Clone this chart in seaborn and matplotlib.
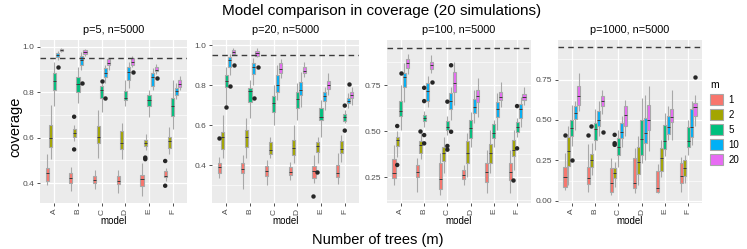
import numpy as np
import pandas as pd
import matplotlib
matplotlib.use('Agg')
import matplotlib.pyplot as plt
import seaborn as sns
from matplotlib.patches import Patch
from matplotlib.ticker import FixedLocator

plt.rcParams['font.family'] = ['Liberation Sans', 'DejaVu Sans']

models = ['A', 'B', 'C', 'D', 'E', 'F']
trees = ['1', '2', '5', '10', '20']
palette = ['#F8766D', '#A3A500', '#00BF7D', '#00B0F6', '#E76BF3']
panel_titles = ['p=5, n=5000', 'p=20, n=5000', 'p=100, n=5000', 'p=1000, n=5000']
target = 0.95

# box stats, model by model, m = 1, 2, 5, 10, 20
# (lower whisker, q1, median, q3, upper whisker)
box_p5 = [
    (0.390, 0.411, 0.443, 0.468, 0.528), (0.505, 0.560, 0.597, 0.654, 0.744), (0.739, 0.810, 0.849, 0.886, 0.934), (0.940, 0.953, 0.963, 0.971, 0.982), (0.978, 0.982, 0.987, 0.991, 0.993),
    (0.363, 0.402, 0.421, 0.443, 0.472), (0.585, 0.604, 0.619, 0.637, 0.655), (0.751, 0.802, 0.836, 0.868, 0.912), (0.900, 0.919, 0.941, 0.960, 0.978), (0.960, 0.968, 0.977, 0.985, 0.990),
    (0.373, 0.402, 0.414, 0.429, 0.458), (0.512, 0.575, 0.604, 0.651, 0.722), (0.714, 0.776, 0.808, 0.827, 0.840), (0.840, 0.865, 0.886, 0.905, 0.920), (0.900, 0.919, 0.930, 0.945, 0.950),
    (0.355, 0.396, 0.410, 0.431, 0.458), (0.505, 0.549, 0.575, 0.629, 0.663), (0.739, 0.766, 0.776, 0.807, 0.853), (0.820, 0.856, 0.890, 0.909, 0.935), (0.910, 0.922, 0.935, 0.949, 0.960),
    (0.345, 0.385, 0.418, 0.436, 0.487), (0.546, 0.565, 0.575, 0.590, 0.616), (0.692, 0.739, 0.766, 0.788, 0.810), (0.810, 0.827, 0.868, 0.883, 0.905), (0.880, 0.895, 0.900, 0.909, 0.925),
    (0.407, 0.426, 0.433, 0.451, 0.465), (0.528, 0.556, 0.585, 0.601, 0.648), (0.640, 0.695, 0.739, 0.773, 0.853), (0.770, 0.788, 0.804, 0.817, 0.839), (0.810, 0.824, 0.838, 0.856, 0.871),
]
box_p20 = [
    (0.333, 0.358, 0.392, 0.412, 0.442), (0.437, 0.478, 0.538, 0.567, 0.650), (0.700, 0.792, 0.822, 0.850, 0.892), (0.850, 0.888, 0.925, 0.942, 0.955), (0.948, 0.955, 0.967, 0.975, 0.985),
    (0.280, 0.358, 0.380, 0.412, 0.450), (0.433, 0.492, 0.542, 0.575, 0.633), (0.633, 0.717, 0.770, 0.783, 0.825), (0.800, 0.853, 0.892, 0.912, 0.935), (0.940, 0.947, 0.962, 0.970, 0.985),
    (0.300, 0.345, 0.370, 0.395, 0.425), (0.433, 0.455, 0.475, 0.517, 0.542), (0.600, 0.667, 0.712, 0.747, 0.800), (0.725, 0.767, 0.800, 0.850, 0.900), (0.833, 0.858, 0.880, 0.912, 0.930),
    (0.325, 0.350, 0.363, 0.392, 0.417), (0.408, 0.450, 0.485, 0.525, 0.600), (0.625, 0.687, 0.730, 0.767, 0.808), (0.690, 0.750, 0.775, 0.817, 0.867), (0.842, 0.858, 0.870, 0.892, 0.917),
    (0.308, 0.337, 0.370, 0.395, 0.450), (0.408, 0.463, 0.495, 0.517, 0.542), (0.540, 0.625, 0.642, 0.683, 0.725), (0.675, 0.722, 0.745, 0.767, 0.792), (0.750, 0.780, 0.800, 0.822, 0.858),
    (0.305, 0.342, 0.358, 0.400, 0.458), (0.417, 0.462, 0.480, 0.520, 0.550), (0.608, 0.622, 0.638, 0.653, 0.675), (0.683, 0.708, 0.722, 0.737, 0.758), (0.700, 0.733, 0.750, 0.767, 0.792),
]
box_p100 = [
    (0.210, 0.248, 0.275, 0.347, 0.425), (0.360, 0.420, 0.450, 0.467, 0.500), (0.506, 0.582, 0.609, 0.663, 0.750), (0.660, 0.741, 0.795, 0.813, 0.867), (0.810, 0.840, 0.868, 0.891, 0.918),
    (0.172, 0.253, 0.280, 0.317, 0.355), (0.352, 0.383, 0.425, 0.447, 0.490), (0.520, 0.555, 0.573, 0.588, 0.610), (0.630, 0.663, 0.720, 0.759, 0.800), (0.813, 0.837, 0.860, 0.873, 0.912),
    (0.155, 0.185, 0.240, 0.330, 0.380), (0.275, 0.338, 0.380, 0.412, 0.470), (0.480, 0.507, 0.525, 0.557, 0.580), (0.560, 0.618, 0.665, 0.705, 0.740), (0.640, 0.714, 0.760, 0.822, 0.877),
    (0.208, 0.240, 0.265, 0.290, 0.317), (0.254, 0.330, 0.380, 0.447, 0.488), (0.416, 0.461, 0.515, 0.561, 0.606), (0.543, 0.600, 0.629, 0.674, 0.723), (0.578, 0.660, 0.690, 0.723, 0.786),
    (0.163, 0.227, 0.278, 0.330, 0.398), (0.272, 0.326, 0.383, 0.429, 0.506), (0.416, 0.461, 0.490, 0.537, 0.560), (0.506, 0.575, 0.618, 0.660, 0.705), (0.632, 0.669, 0.685, 0.714, 0.768),
    (0.163, 0.236, 0.280, 0.326, 0.398), (0.290, 0.366, 0.398, 0.452, 0.506), (0.470, 0.497, 0.525, 0.550, 0.570), (0.524, 0.570, 0.618, 0.647, 0.687), (0.640, 0.669, 0.687, 0.701, 0.740),
]
box_p1000 = [
    (0.066, 0.087, 0.145, 0.207, 0.294), (0.100, 0.215, 0.305, 0.394, 0.460), (0.340, 0.400, 0.450, 0.500, 0.590), (0.440, 0.505, 0.543, 0.588, 0.620), (0.553, 0.595, 0.650, 0.713, 0.790),
    (0.056, 0.104, 0.139, 0.207, 0.350), (0.160, 0.207, 0.253, 0.290, 0.355), (0.315, 0.373, 0.446, 0.480, 0.565), (0.400, 0.460, 0.500, 0.553, 0.615), (0.540, 0.584, 0.618, 0.646, 0.688),
    (0.035, 0.056, 0.112, 0.201, 0.263), (0.087, 0.139, 0.170, 0.205, 0.242), (0.210, 0.282, 0.330, 0.387, 0.440), (0.335, 0.387, 0.425, 0.480, 0.526), (0.400, 0.460, 0.532, 0.584, 0.625),
    (0.045, 0.077, 0.112, 0.263, 0.325), (0.097, 0.166, 0.237, 0.332, 0.400), (0.232, 0.284, 0.380, 0.497, 0.636), (0.253, 0.356, 0.418, 0.512, 0.657), (0.305, 0.440, 0.497, 0.595, 0.708),
    (0.045, 0.056, 0.077, 0.186, 0.230), (0.150, 0.186, 0.263, 0.325, 0.377), (0.275, 0.319, 0.367, 0.470, 0.543), (0.378, 0.415, 0.455, 0.526, 0.584), (0.378, 0.485, 0.518, 0.568, 0.688),
    (0.056, 0.112, 0.153, 0.236, 0.273), (0.108, 0.153, 0.205, 0.253, 0.284), (0.284, 0.332, 0.370, 0.454, 0.500), (0.346, 0.394, 0.455, 0.568, 0.615), (0.460, 0.526, 0.578, 0.605, 0.657),
]

# outlying simulations (model, m, coverage)
out_p5 = [('A', '10', 0.912), ('B', '2', 0.692), ('B', '2', 0.548), ('B', '10', 0.842),
          ('C', '5', 0.848), ('C', '10', 0.776), ('D', '20', 0.890), ('E', '2', 0.512),
          ('E', '2', 0.505), ('E', '20', 0.861), ('F', '1', 0.497), ('F', '1', 0.388)]
out_p20 = [('A', '1', 0.533), ('A', '5', 0.692), ('A', '10', 0.797), ('A', '20', 0.900),
           ('B', '10', 0.733), ('B', '20', 0.892), ('E', '1', 0.247), ('E', '2', 0.367),
           ('F', '5', 0.697), ('F', '5', 0.572), ('F', '10', 0.803)]
out_p100 = [('A', '2', 0.317), ('A', '2', 0.528), ('A', '5', 0.815), ('B', '2', 0.500),
            ('B', '5', 0.735), ('B', '5', 0.663), ('B', '5', 0.479), ('B', '5', 0.434),
            ('B', '20', 0.768), ('C', '5', 0.660), ('C', '5', 0.420), ('C', '5', 0.400),
            ('C', '10', 0.857), ('C', '10', 0.497), ('F', '2', 0.236), ('F', '5', 0.407),
            ('F', '5', 0.636)]
out_p1000 = [('A', '1', 0.408), ('A', '5', 0.253), ('B', '1', 0.410), ('B', '2', 0.464),
             ('B', '20', 0.423), ('C', '2', 0.408), ('C', '2', 0.356), ('C', '2', 0.346),
             ('F', '20', 0.767)]

boxes = [box_p5, box_p20, box_p100, box_p1000]
outliers = [out_p5, out_p20, out_p100, out_p1000]

# axis setup per panel
ylims = [(0.312, 1.030), (0.210, 1.025), (0.111, 0.994), (-0.014, 0.995)]
yticks = [[0.4, 0.6, 0.8, 1.0], [0.4, 0.6, 0.8, 1.0], [0.25, 0.50, 0.75], [0.00, 0.25, 0.50, 0.75]]
yfmt = ['%.1f', '%.1f', '%.2f', '%.2f']
ylefts = [40, 212, 387, 558]
pwidths = [147, 147, 144, 144]


def box_frame(stats):
    rows = []
    for i, s in enumerate(stats):
        for v in s:
            rows.append((models[i // 5], trees[i % 5], v))
    return pd.DataFrame(rows, columns=['model', 'm', 'coverage'])


W, H = 747, 249
fig = plt.figure(figsize=(W / 100, H / 100), dpi=100)

for k in range(4):
    ax = fig.add_axes([ylefts[k] / W, (H - 203) / H, pwidths[k] / W, 163 / H])
    ax.set_facecolor('#EBEBEB')
    ax.set_axisbelow(True)

    sns.boxplot(data=box_frame(boxes[k]), x='model', y='coverage', hue='m',
                order=models, hue_order=trees, palette=palette, saturation=1,
                whis=(0, 100), width=0.75, gap=0.12, linecolor='#A8A8A8',
                linewidth=0.8, medianprops=dict(color='#3A3A3A', linewidth=0.7),
                capprops=dict(linewidth=0), legend=False, ax=ax)
    odf = pd.DataFrame(outliers[k], columns=['model', 'm', 'coverage'])
    sns.stripplot(data=odf, x='model', y='coverage', hue='m', order=models,
                  hue_order=trees, dodge=True, jitter=False,
                  palette=['#262626'] * 5, size=3.2, linewidth=0,
                  legend=False, ax=ax)

    ax.axhline(target, color='#3C3C3C', ls=(0, (4, 3)), lw=1.0, zorder=5)

    ax.set_xlim(-0.6, 5.6)
    ax.set_ylim(*ylims[k])
    t = yticks[k]
    ax.set_yticks(t)
    ax.set_yticklabels([yfmt[k] % v for v in t])
    step = t[1] - t[0]
    ax.yaxis.set_minor_locator(FixedLocator([v - step / 2 for v in t] + [t[-1] + step / 2]))
    ax.grid(which='major', color='white', lw=0.9)
    ax.grid(which='minor', axis='y', color='white', lw=0.45)
    for s in ax.spines.values():
        s.set_visible(False)
    ax.tick_params(which='major', length=2.5, width=0.6, color='#333333',
                   labelsize=6, labelcolor='#4D4D4D', pad=1.5)
    ax.tick_params(which='minor', length=0)
    ax.tick_params(axis='x', labelrotation=90)
    ax.set_xlabel('model', fontsize=7, labelpad=1)
    ax.set_ylabel('')
    fig.text((ylefts[k] + pwidths[k] / 2) / W, 1 - 30 / H, panel_titles[k],
             ha='center', va='center', fontsize=7.8)

fig.text(382 / W, 1 - 11 / H, 'Model comparison in coverage (20 simulations)',
         ha='center', va='center', fontsize=11)
fig.text(15 / W, 1 - 127 / H, 'coverage', rotation=90, ha='center', va='center', fontsize=10.5)
fig.text(378 / W, 1 - 240 / H, 'Number of trees (m)', ha='center', va='center', fontsize=10.5)

handles = [Patch(facecolor=c, edgecolor='#A8A8A8', lw=0.8, label=m) for c, m in zip(palette, trees)]
fig.legend(handles=handles, title='m', loc='upper left', bbox_to_anchor=(706 / W, 1 - 76 / H),
           frameon=False, fontsize=7, title_fontsize=7.5, handlelength=1.3, handleheight=1.3,
           labelspacing=0.45, handletextpad=0.6, alignment='left', borderaxespad=0)

fig.savefig('out.png', dpi=100)
